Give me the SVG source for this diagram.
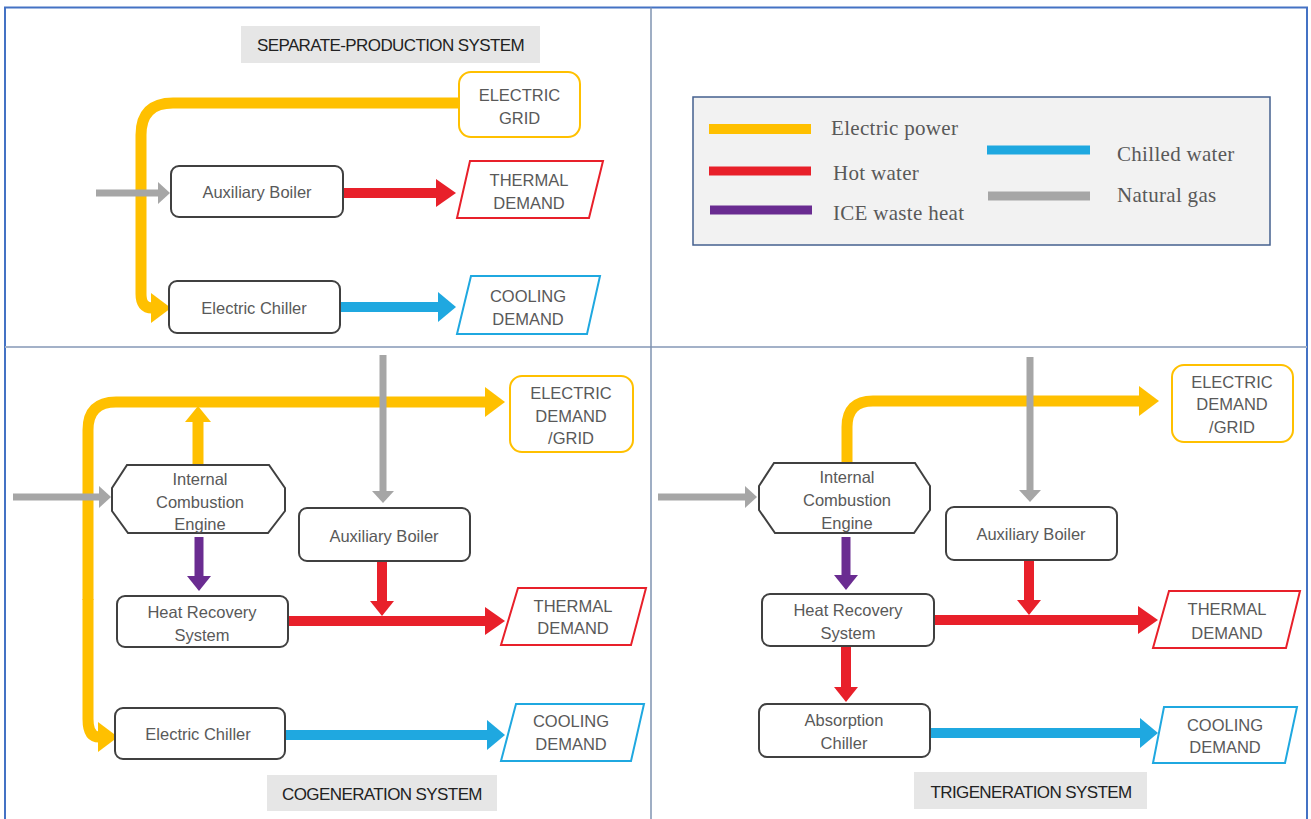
<svg xmlns="http://www.w3.org/2000/svg" width="1311" height="819" viewBox="0 0 1311 819">
<style>
.node{fill:#ffffff;stroke:#404040;stroke-width:2}
.t{font-family:"Liberation Sans",Arial,sans-serif;font-size:16.5px;fill:#595959;text-anchor:middle;dominant-baseline:central}
.title{font-family:"Liberation Sans",Arial,sans-serif;font-size:17px;fill:#222222;text-anchor:middle;dominant-baseline:central;letter-spacing:-0.6px}
.lg{font-family:"Liberation Serif","Times New Roman",serif;font-size:21px;fill:#595959;dominant-baseline:central;letter-spacing:0.3px}
.tbox{fill:#e6e6e6}
.ye{fill:#ffffff;stroke:#ffc000;stroke-width:2}
.re{fill:#ffffff;stroke:#e8202a;stroke-width:2}
.bl{fill:#ffffff;stroke:#1fa8e0;stroke-width:2}
.c{fill:none}
.cy{stroke:#ffc000;stroke-width:11}
.cr{stroke:#e8202a;stroke-width:10}
.cb{stroke:#1fa8e0;stroke-width:10}
.cp{stroke:#6a2c91;stroke-width:9}
.cg{stroke:#a6a6a6;stroke-width:7}
</style>
<defs>
<marker id="y-big" markerUnits="userSpaceOnUse" markerWidth="22" markerHeight="32" viewBox="0 -16 22 32" refX="1" refY="0" orient="auto"><path d="M0,-15 L20,0 L0,15 z" fill="#ffc000"/></marker>
<marker id="y-mid" markerUnits="userSpaceOnUse" markerWidth="18" markerHeight="28" viewBox="0 -14 18 28" refX="1" refY="0" orient="auto"><path d="M0,-13 L16,0 L0,13 z" fill="#ffc000"/></marker>
<marker id="r-big" markerUnits="userSpaceOnUse" markerWidth="22" markerHeight="32" viewBox="0 -16 22 32" refX="1" refY="0" orient="auto"><path d="M0,-14 L20,0 L0,14 z" fill="#e8202a"/></marker>
<marker id="r-mid" markerUnits="userSpaceOnUse" markerWidth="18" markerHeight="28" viewBox="0 -14 18 28" refX="1" refY="0" orient="auto"><path d="M0,-12 L15,0 L0,12 z" fill="#e8202a"/></marker>
<marker id="b-big" markerUnits="userSpaceOnUse" markerWidth="22" markerHeight="32" viewBox="0 -16 22 32" refX="1" refY="0" orient="auto"><path d="M0,-15 L18,0 L0,15 z" fill="#1fa8e0"/></marker>
<marker id="p-mid" markerUnits="userSpaceOnUse" markerWidth="18" markerHeight="28" viewBox="0 -14 18 28" refX="1" refY="0" orient="auto"><path d="M0,-12 L15,0 L0,12 z" fill="#6a2c91"/></marker>
<marker id="g-sm" markerUnits="userSpaceOnUse" markerWidth="14" markerHeight="24" viewBox="0 -12 14 24" refX="1" refY="0" orient="auto"><path d="M0,-11 L12,0 L0,11 z" fill="#a6a6a6"/></marker>
</defs>
<rect width="1311" height="819" fill="#ffffff"/>
<g id="frame" fill="none">
<path d="M5,819 V7.5 H1307 V819" stroke="#4472c4" stroke-width="2"/>
<line x1="5" y1="347" x2="1307" y2="347" stroke="#a3b1c8" stroke-width="2"/>
<line x1="651" y1="7.5" x2="651" y2="819" stroke="#7f93b0" stroke-width="1.5"/>
</g>

<g id="connectors" class="c">
<!-- separate production -->
<path class="c cy" d="M458,103 H173 Q141,103 141,135 V294 Q141,308 152,308" marker-end="url(#y-big)"/>
<path class="c cg" d="M96,193 H159" marker-end="url(#g-sm)"/>
<path class="c cr" d="M343,193 H437" marker-end="url(#r-big)"/>
<path class="c cb" d="M340,307 H439" marker-end="url(#b-big)"/>
<!-- cogeneration -->
<path class="c cy" d="M88,600 V430 Q88,402 116,402 H486" marker-end="url(#y-big)"/>
<path class="c cy" d="M88,599 V719 Q88,737 99,737" marker-end="url(#y-big)"/>
<path class="c cy" d="M198,465 V421" marker-end="url(#y-mid)"/>
<path class="c cg" d="M383,355 V492" marker-end="url(#g-sm)"/>
<path class="c cg" d="M13,497 H100" marker-end="url(#g-sm)"/>
<path class="c cp" d="M199,537 V577" marker-end="url(#p-mid)"/>
<path class="c cr" d="M382,561 V602" marker-end="url(#r-mid)"/>
<path class="c cr" d="M288,621 H486" marker-end="url(#r-big)"/>
<path class="c cb" d="M285,735 H488" marker-end="url(#b-big)"/>
<!-- trigeneration -->
<path class="c cy" d="M847,463 V427 Q847,401 873,401 H1140" marker-end="url(#y-big)"/>
<path class="c cg" d="M1030,357 V491" marker-end="url(#g-sm)"/>
<path class="c cg" d="M658,497 H746" marker-end="url(#g-sm)"/>
<path class="c cp" d="M846,537 V576" marker-end="url(#p-mid)"/>
<path class="c cr" d="M1029,560 V601" marker-end="url(#r-mid)"/>
<path class="c cr" d="M934,620 H1139" marker-end="url(#r-big)"/>
<path class="c cr" d="M846,647 V688" marker-end="url(#r-mid)"/>
<path class="c cb" d="M930,733 H1141" marker-end="url(#b-big)"/>
</g>

<!-- Separate production -->
<g id="title-separate"><rect class="tbox" x="241" y="26" width="299" height="37"/><text class="title" x="390.5" y="45">SEPARATE-PRODUCTION SYSTEM</text></g>
<g id="sp-grid"><rect class="ye" x="459" y="72" width="121" height="65" rx="12"/><text class="t" x="519.5" y="95">ELECTRIC</text><text class="t" x="519.5" y="118">GRID</text></g>
<g id="sp-boiler"><rect class="node" x="171" y="166" width="172" height="51" rx="8"/><text class="t" x="257" y="192">Auxiliary  Boiler</text></g>
<g id="sp-thermal"><polygon class="re" points="470,161 603,161 589,218 457,218"/><text class="t" x="529" y="180">THERMAL</text><text class="t" x="529" y="203">DEMAND</text></g>
<g id="sp-chiller"><rect class="node" x="169" y="281" width="171" height="52" rx="8"/><text class="t" x="254" y="308">Electric Chiller</text></g>
<g id="sp-cooling"><polygon class="bl" points="471,276 600,276 587,334 457,334"/><text class="t" x="528" y="296">COOLING</text><text class="t" x="528" y="319">DEMAND</text></g>

<!-- Legend -->
<g id="legend">
<rect x="693" y="97" width="577" height="148" fill="#f2f2f2" stroke="#44608f" stroke-width="1.5"/>
<line x1="709" y1="129" x2="811" y2="129" stroke="#ffc000" stroke-width="10"/>
<text class="lg" x="831" y="128">Electric power</text>
<line x1="709" y1="171" x2="811" y2="171" stroke="#e8202a" stroke-width="9"/>
<text class="lg" x="833" y="173">Hot water</text>
<line x1="710" y1="210" x2="812" y2="210" stroke="#6a2c91" stroke-width="9"/>
<text class="lg" x="833" y="213">ICE waste heat</text>
<line x1="987" y1="150" x2="1090" y2="150" stroke="#1fa8e0" stroke-width="9"/>
<text class="lg" x="1117" y="154">Chilled  water</text>
<line x1="988" y1="196" x2="1090" y2="196" stroke="#a6a6a6" stroke-width="9"/>
<text class="lg" x="1117" y="195">Natural  gas</text>
</g>

<!-- Cogeneration -->
<g id="co-grid"><rect class="ye" x="510" y="376" width="123" height="76" rx="12"/><text class="t" x="571" y="393">ELECTRIC</text><text class="t" x="571" y="416">DEMAND</text><text class="t" x="571" y="438">/GRID</text></g>
<g id="co-ice"><polygon class="node" points="127,465 269,465 285,488 285,511 268,533 128,533 112,511 112,488"/><text class="t" x="200" y="479">Internal</text><text class="t" x="200" y="502">Combustion</text><text class="t" x="200" y="524">Engine</text></g>
<g id="co-boiler"><rect class="node" x="299" y="508" width="171" height="53" rx="8"/><text class="t" x="384" y="536">Auxiliary  Boiler</text></g>
<g id="co-hrs"><rect class="node" x="117" y="596" width="171" height="51" rx="8"/><text class="t" x="202" y="612">Heat Recovery</text><text class="t" x="202" y="635">System</text></g>
<g id="co-thermal"><polygon class="re" points="518,588 646,588 631,645 501,645"/><text class="t" x="573" y="606">THERMAL</text><text class="t" x="573" y="628">DEMAND</text></g>
<g id="co-chiller"><rect class="node" x="115" y="708" width="170" height="51" rx="8"/><text class="t" x="198" y="734">Electric Chiller</text></g>
<g id="co-cooling"><polygon class="bl" points="516,704 644,704 631,761 501,761"/><text class="t" x="571" y="721">COOLING</text><text class="t" x="571" y="744">DEMAND</text></g>
<g id="title-cogen"><rect class="tbox" x="267" y="775" width="230" height="36"/><text class="title" x="382" y="794">COGENERATION SYSTEM</text></g>

<!-- Trigeneration -->
<g id="tri-grid"><rect class="ye" x="1172" y="365" width="121" height="77" rx="12"/><text class="t" x="1232" y="382">ELECTRIC</text><text class="t" x="1232" y="404">DEMAND</text><text class="t" x="1232" y="427">/GRID</text></g>
<g id="tri-ice"><polygon class="node" points="774,463 915,463 930,486 930,510 914,533 775,533 759,510 759,486"/><text class="t" x="847" y="477">Internal</text><text class="t" x="847" y="500">Combustion</text><text class="t" x="847" y="523">Engine</text></g>
<g id="tri-boiler"><rect class="node" x="946" y="507" width="171" height="53" rx="8"/><text class="t" x="1031" y="534">Auxiliary  Boiler</text></g>
<g id="tri-hrs"><rect class="node" x="762" y="594" width="172" height="52" rx="8"/><text class="t" x="848" y="610">Heat Recovery</text><text class="t" x="848" y="633">System</text></g>
<g id="tri-thermal"><polygon class="re" points="1169,591 1300,591 1286,648 1153,648"/><text class="t" x="1227" y="609">THERMAL</text><text class="t" x="1227" y="633">DEMAND</text></g>
<g id="tri-abs"><rect class="node" x="759" y="704" width="171" height="53" rx="8"/><text class="t" x="844" y="720">Absorption</text><text class="t" x="844" y="743">Chiller</text></g>
<g id="tri-cooling"><polygon class="bl" points="1164,707 1297,707 1285,763 1153,763"/><text class="t" x="1225" y="725">COOLING</text><text class="t" x="1225" y="747">DEMAND</text></g>
<g id="title-trigen"><rect class="tbox" x="914" y="772" width="233" height="37"/><text class="title" x="1031" y="792">TRIGENERATION SYSTEM</text></g>
</svg>
